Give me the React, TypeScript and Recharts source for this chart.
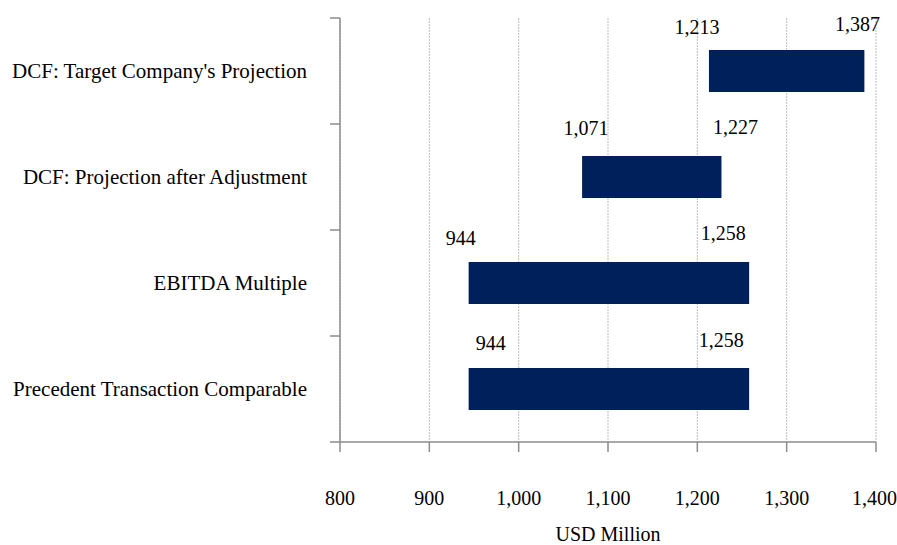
import React from "react";
import { BarChart, Bar, XAxis, YAxis, CartesianGrid, LabelList } from "recharts";

const categories = [
  "DCF: Target Company's Projection",
  "DCF: Projection after Adjustment",
  "EBITDA Multiple",
  "Precedent Transaction Comparable",
];
const lowValues = [1213, 1071, 944, 944];
const highValues = [1387, 1227, 1258, 1258];
const xTicks = [800, 900, 1000, 1100, 1200, 1300, 1400];

// hand-placed label nudges (px) as in the source chart
const lowNudgeX = [-12, 4, -8, 22];
const highNudgeX = [-7, 14, -26, -28];
const lowNudgeY = [-23, -28, -24, -25];
const highNudgeY = [-26, -29, -29, -28];

const data = categories.map((name, i) => ({
  name,
  range: [lowValues[i], highValues[i]],
}));

const W = 897;
const H = 545;
const MARGIN = { top: 18, right: 21, bottom: 0, left: 0 };
const X_AXIS_H = 103;
const BAND = (H - MARGIN.top - MARGIN.bottom - X_AXIS_H) / categories.length;
const FONT = "'Liberation Serif', 'Times New Roman', serif";
const AXIS_GRAY = "#8c8c8c";

const fmt = (v: number) => v.toLocaleString("en-US");

function CategoryTick(props: any) {
  const { x, y, payload, index } = props;
  const last = index === categories.length - 1;
  return (
    <g>
      <line x1={x - 10} x2={x} y1={y - BAND / 2} y2={y - BAND / 2} stroke={AXIS_GRAY} strokeWidth={1.5} />
      {last && (
        <line x1={x - 10} x2={x} y1={y + BAND / 2} y2={y + BAND / 2} stroke={AXIS_GRAY} strokeWidth={1.5} />
      )}
      <text
        x={x - 33}
        y={y}
        textAnchor="end"
        dominantBaseline="central"
        fontFamily={FONT}
        fontSize={21}
        fill="#000"
      >
        {payload.value}
      </text>
    </g>
  );
}

function lowLabel(props: any) {
  const { x, y, index } = props;
  return (
    <text
      x={x + lowNudgeX[index]}
      y={y + lowNudgeY[index]}
      textAnchor="middle"
      dominantBaseline="central"
      fontFamily={FONT}
      fontSize={20}
      fill="#000"
    >
      {fmt(lowValues[index])}
    </text>
  );
}

function highLabel(props: any) {
  const { x, y, width, index } = props;
  return (
    <text
      x={x + width + highNudgeX[index]}
      y={y + highNudgeY[index]}
      textAnchor="middle"
      dominantBaseline="central"
      fontFamily={FONT}
      fontSize={20}
      fill="#000"
    >
      {fmt(highValues[index])}
    </text>
  );
}

export default function App() {
  return (
    <div style={{ position: "absolute", left: 0, top: 0, width: W, height: H, background: "#fff" }}>
      <BarChart width={W} height={H} data={data} layout="vertical" margin={MARGIN}>
        <CartesianGrid horizontal={false} stroke="#bdbdbd" strokeDasharray="2 1" />
        <XAxis
          type="number"
          domain={[800, 1400]}
          ticks={xTicks}
          allowDataOverflow
          height={X_AXIS_H}
          tickFormatter={fmt}
          tickSize={10}
          tickMargin={39}
          stroke={AXIS_GRAY}
          strokeWidth={1.5}
          tick={{ fontFamily: FONT, fontSize: 20, fill: "#000" }}
          label={{
            value: "USD Million",
            position: "insideBottom",
            offset: 4,
            fontFamily: FONT,
            fontSize: 20,
            fill: "#000",
          }}
        />
        <YAxis
          type="category"
          dataKey="name"
          width={340}
          tickLine={false}
          tickSize={0}
          tickMargin={0}
          stroke={AXIS_GRAY}
          strokeWidth={1.5}
          tick={<CategoryTick />}
        />
        <Bar dataKey="range" fill="#00205b" barSize={42} isAnimationActive={false}>
          <LabelList dataKey="range" content={lowLabel} />
          <LabelList dataKey="range" content={highLabel} />
        </Bar>
      </BarChart>
    </div>
  );
}
